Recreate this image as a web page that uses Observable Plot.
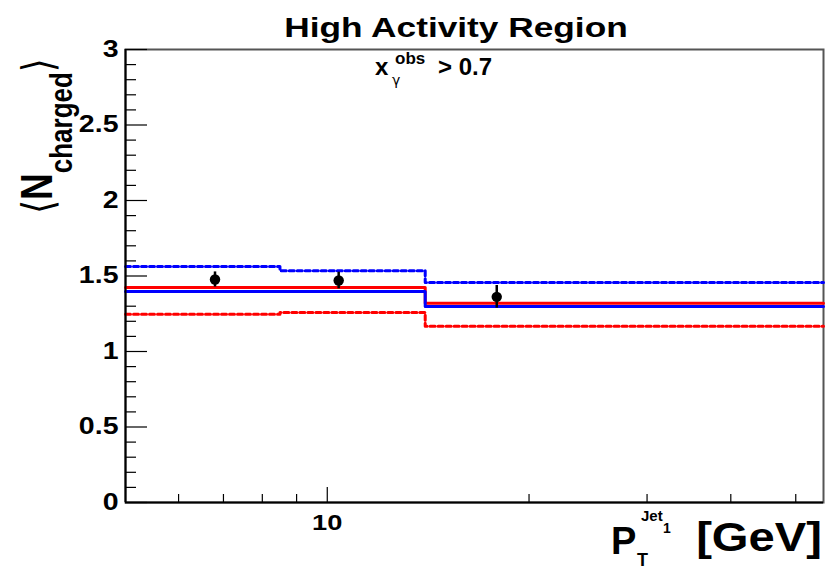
<!DOCTYPE html>
<html>
<head>
<meta charset="utf-8">
<script src="https://cdn.jsdelivr.net/npm/d3@7"></script>
<script src="https://cdn.jsdelivr.net/npm/@observablehq/plot@0.6"></script>
<style>
  html, body { margin: 0; padding: 0; background: #fff; }
  svg { display: block; }
</style>
</head>
<body>
<div id="chart"></div>
<script>
// ---- data ----
const xDomain = [5, 55];
const yDomain = [0, 3];
const binEdges = [5, 8.5, 14, 55];
const redSolid   = [1.424, 1.424, 1.319];
const blueSolid  = [1.397, 1.397, 1.298];
const blueDashed = [1.563, 1.535, 1.457];
const redDashed  = [1.247, 1.258, 1.167];
const pointX   = [6.8, 10.4, 17.9];
const pointY   = [1.477, 1.47, 1.362];
const pointErr = [0.05, 0.055, 0.075];
const yMajorTicks = [0, 0.5, 1, 1.5, 2, 2.5, 3];
const yMinorTicks = [0.1,0.2,0.3,0.4,0.6,0.7,0.8,0.9,1.1,1.2,1.3,1.4,1.6,1.7,1.8,1.9,2.1,2.2,2.3,2.4,2.6,2.7,2.8,2.9];
const xMajorTicks = [10];
const xMinorTicks = [6, 7, 8, 9, 20, 30, 40, 50];

// ---- build tables ----
function steps(vals) {
  const v = vals.concat([vals[vals.length - 1]]);
  return binEdges.map((x, i) => ({x, y: v[i]}));
}
const points = pointX.map((x, i) => ({x, y: pointY[i], lo: pointY[i] - pointErr[i], hi: pointY[i] + pointErr[i]}));

const W = 828, H = 569;
const mL = 125, mR = 5, mT = 49, mB = 67;
const pw = W - mL - mR, ph = H - mT - mB;
const font = "Liberation Sans, Arial, Helvetica, sans-serif";
const SX = 1.24; // horizontal widening of the reference's lettering

const chart = Plot.plot({
  width: W, height: H,
  marginLeft: mL, marginRight: mR, marginTop: mT, marginBottom: mB,
  style: {fontFamily: font, background: "white", overflow: "visible"},
  x: {type: "log", domain: xDomain, axis: null},
  y: {domain: yDomain, axis: null},
  marks: [
    Plot.frame({stroke: "#555", strokeWidth: 2}),
    // y ticks (inward)
    Plot.tickY(yMinorTicks, {y: d => d, insetRight: pw - 11, stroke: "black", strokeWidth: 1.2}),
    Plot.tickY(yMajorTicks, {y: d => d, insetRight: pw - 22, stroke: "black", strokeWidth: 1.2}),
    // x ticks (inward)
    Plot.tickX(xMinorTicks, {x: d => d, insetTop: ph - 8, stroke: "black", strokeWidth: 1.2}),
    Plot.tickX(xMajorTicks, {x: d => d, insetTop: ph - 15, stroke: "black", strokeWidth: 1.2}),
    Plot.axisY({ticks: yMajorTicks, tickSize: 0, tickPadding: 7, label: null,
      fontSize: 23, fontWeight: "bold", tickFormat: d => String(d)}),
    Plot.axisX({ticks: xMajorTicks, tickSize: 0, tickPadding: 12, label: null,
      fontSize: 22, fontWeight: "bold", tickFormat: d => String(d)}),
    // model step lines
    Plot.line(steps(redDashed),  {x: "x", y: "y", curve: "step-after", stroke: "#ff0000", strokeWidth: 3, strokeDasharray: "5,3"}),
    Plot.line(steps(blueDashed), {x: "x", y: "y", curve: "step-after", stroke: "#0000ff", strokeWidth: 3, strokeDasharray: "5,3"}),
    Plot.line(steps(redSolid),   {x: "x", y: "y", curve: "step-after", stroke: "#ff0000", strokeWidth: 3}),
    Plot.line(steps(blueSolid),  {x: "x", y: "y", curve: "step-after", stroke: "#0000ff", strokeWidth: 3}),
    // data points
    Plot.ruleX(points, {x: "x", y1: "lo", y2: "hi", stroke: "black", strokeWidth: 2.5}),
    Plot.dot(points, {x: "x", y: "y", r: 5.2, fill: "black", stroke: "none"}),
    // axis lines
    Plot.ruleY([yDomain[0]], {stroke: "black", strokeWidth: 2}),
    Plot.ruleX([xDomain[0]], {stroke: "black", strokeWidth: 2})
  ]
});

document.getElementById("chart").appendChild(chart);

const svg = d3.select(chart);

// widen the tick labels like the reference lettering
svg.selectAll('g[aria-label="y-axis tick label"] text, g[aria-label="x-axis tick label"] text')
  .each(function() {
    const t = this.getAttribute("transform") || "";
    this.setAttribute("transform", t + ` scale(${SX},1)`);
  });

function addText(x, y, str, opts = {}) {
  return svg.append("text")
    .attr("transform", `translate(${x},${y}) scale(${opts.sx ?? SX},1)`)
    .attr("text-anchor", opts.anchor || "start")
    .attr("font-family", opts.family || font)
    .attr("font-weight", opts.weight || "bold")
    .attr("font-size", opts.size)
    .attr("fill", "black")
    .text(str);
}

// Title
addText(456, 37, "High Activity Region", {size: 28, anchor: "middle", sx: 1.26});

// Subtitle  x_gamma^obs > 0.7
const st = svg.append("text")
  .attr("text-anchor", "start").attr("font-family", font).attr("font-weight", "bold")
  .attr("fill", "black");
st.append("tspan").attr("x", 375).attr("y", 75).attr("font-size", 24).text("x");
st.append("tspan").attr("x", 392).attr("y", 85).attr("font-size", 14).attr("font-weight", "normal")
  .attr("font-family", "DejaVu Sans, sans-serif").text("γ");
st.append("tspan").attr("x", 395).attr("y", 64).attr("font-size", 17).text("obs");
st.append("tspan").attr("x", 438).attr("y", 75).attr("font-size", 24).text("> 0.7");

// Y axis title  <N_charged>
const yt = svg.append("text")
  .attr("transform", "translate(52,214) rotate(-90) scale(1,1.2)")
  .attr("text-anchor", "start")
  .attr("font-family", font).attr("font-weight", "bold").attr("font-size", 37)
  .attr("fill", "black");
yt.append("tspan").attr("font-family", "DejaVu Sans, sans-serif").attr("font-weight", "normal").attr("font-size", 36).attr("dy", 1).text("⟨");
yt.append("tspan").attr("dy", -1).text("N");
yt.append("tspan").attr("font-size", 26).attr("dy", 16.5).text("charged");
yt.append("tspan").attr("font-family", "DejaVu Sans, sans-serif").attr("font-weight", "normal").attr("font-size", 36).attr("dy", -15.5).text("⟩");

// X axis title  P_T^{Jet_1} [GeV]
const xt = svg.append("text")
  .attr("text-anchor", "start").attr("font-family", font).attr("font-weight", "bold")
  .attr("fill", "black");
xt.append("tspan").attr("x", 611).attr("y", 554).attr("font-size", 38).text("P");
xt.append("tspan").attr("x", 637).attr("y", 566).attr("font-size", 18).text("T");
xt.append("tspan").attr("x", 641).attr("y", 521).attr("font-size", 15).text("Jet");
xt.append("tspan").attr("x", 663).attr("y", 533).attr("font-size", 14).text("1");
addText(822, 551, "[GeV]", {size: 40, anchor: "end", sx: 1.18});
</script>
</body>
</html>
